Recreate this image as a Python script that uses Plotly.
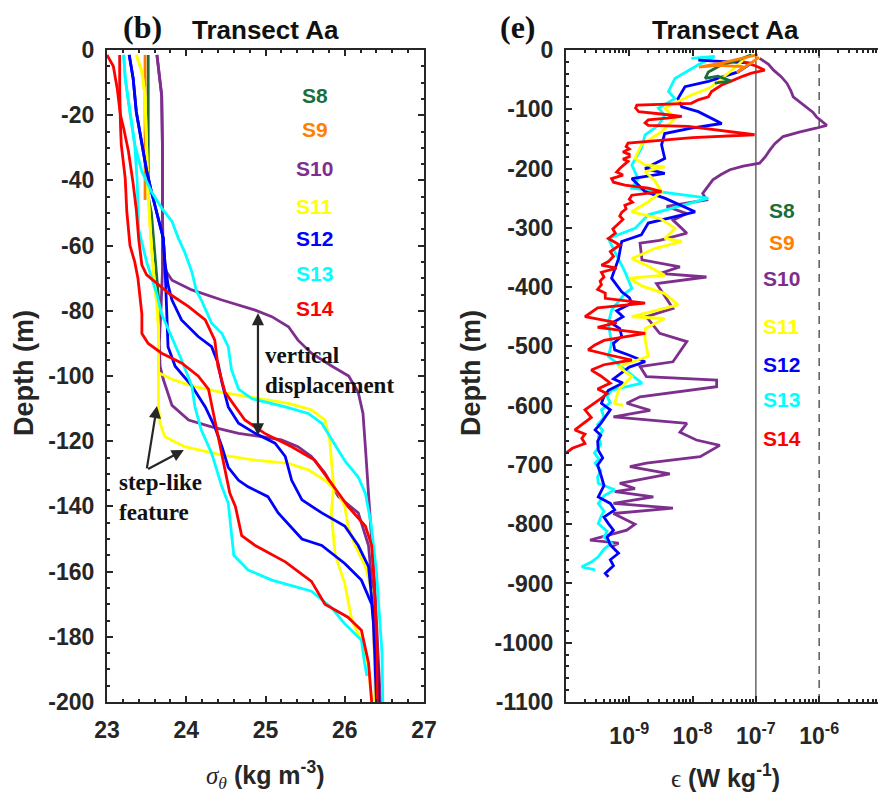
import plotly.graph_objects as go

# ---------------- Left panel: sigma_theta profiles (kg m^-3) vs depth (m) ----------------
stations = ["S8", "S9", "S10", "S11", "S12", "S13", "S14"]
colors = ["#1a6e3a", "#ff8000", "#7e2f8e", "#ffff00", "#0000ff", "#00ffff", "#ff0000"]

S8_sig = [23.52, 23.52, 23.52, 23.52, 23.52, 23.56, 23.60, 23.65, 23.66]
S8_dep = [-1.5, -10, -20, -30, -45, -50, -62, -75, -79]

S9_sig = [23.48, 23.48, 23.48, 23.48]
S9_dep = [-1.5, -15, -30, -46]

S10a_sig = [23.63, 23.67, 23.69, 23.70, 23.70, 23.71, 23.75, 23.82, 24.07, 24.45, 24.87, 25.08, 25.29,
            25.41, 25.58, 25.84, 26.05, 26.17, 26.23, 26.26, 26.30, 26.34, 26.38, 26.42, 26.45]
S10a_dep = [-1.5, -8.7, -14, -30, -50, -65, -68, -70.6, -73.6, -76.7, -79.8, -81.8, -84.9,
            -89, -93, -97, -100, -105, -111.5, -121.7, -136, -150, -165, -185, -200]
S10b_sig = [23.63, 23.67, 23.69, 23.70, 23.70, 23.70, 23.68, 23.66, 23.67, 23.71, 23.82, 24.03, 24.32,
            24.66, 24.95, 25.20, 25.41, 25.58, 25.75, 25.92, 26.17, 26.30, 26.34, 26.37, 26.40]
S10b_dep = [-1.5, -8.7, -14, -30, -50, -68, -80, -90, -97, -101, -109, -113.5, -115.6,
            -117.6, -118.6, -119.6, -121.7, -124.7, -129.8, -137, -142, -152, -163, -180, -200]

S11a_sig = [23.37, 23.44, 23.48, 23.50, 23.52, 23.56, 23.60, 23.63, 23.65, 23.65, 23.65, 23.82, 24.07,
            24.45, 24.87, 25.29, 25.58, 25.75, 25.81, 25.84, 25.86, 25.83, 25.88, 26.00, 26.09, 26.21,
            26.30, 26.34]
S11a_dep = [-1.5, -6.6, -14, -29, -44.5, -60, -72, -78, -85, -96, -99, -101, -103,
            -105, -106.8, -108.4, -110.4, -113.5, -119.6, -128, -134, -142, -155, -163.6, -175, -181,
            -189, -200]
S11b_sig = [23.37, 23.44, 23.48, 23.50, 23.52, 23.56, 23.60, 23.63, 23.65, 23.65, 23.65, 23.67, 23.73,
            23.98, 24.45, 24.87, 25.29, 25.54, 25.75, 25.92, 26.00, 26.04, 26.13, 26.26, 26.34, 26.37, 26.38]
S11b_dep = [-1.5, -6.6, -14, -29, -44.5, -60, -72, -78, -85, -100, -109.5, -114.5, -118.6,
            -121.7, -124.3, -125.8, -126.8, -128.8, -132, -136, -140, -146, -152, -158.5, -166, -178, -200]

S12a_sig = [23.28, 23.33, 23.37, 23.44, 23.50, 23.56, 23.65, 23.71, 23.73, 23.77, 23.82, 23.94, 24.15,
            24.32, 24.40, 24.45, 24.53, 24.66, 24.87, 25.12, 25.25, 25.33, 25.46, 25.71, 26.00, 26.17,
            26.30, 26.36, 26.40]
S12a_dep = [-1.5, -8.7, -19, -29, -37, -43.4, -51.6, -57.7, -65, -72, -76.7, -82.8, -87.9,
            -91, -96, -102, -109.5, -114.5, -117.6, -120.6, -124.7, -132, -138, -142, -146, -152,
            -158.5, -173, -200]
S12b_sig = [23.28, 23.33, 23.37, 23.44, 23.50, 23.56, 23.65, 23.71, 23.73, 23.75, 23.77, 23.86, 24.07,
            24.24, 24.36, 24.45, 24.53, 24.66, 24.78, 25.03, 25.16, 25.46, 25.71, 26.00, 26.21, 26.34,
            26.42, 26.43]
S12b_dep = [-1.5, -8.7, -19, -29, -37, -43.4, -51.6, -57.7, -65, -81, -91, -97, -103,
            -109.5, -115.6, -121.7, -128, -132, -134, -137, -142, -150, -152, -157.5, -162.6, -170,
            -190, -200]

S13a_sig = [23.21, 23.23, 23.29, 23.35, 23.44, 23.56, 23.69, 23.82, 23.90, 23.98, 24.07, 24.13, 24.19,
            24.32, 24.45, 24.53, 24.57, 24.66, 24.83, 25.25, 25.54, 25.71, 25.84, 26.00, 26.17, 26.26,
            26.33, 26.40, 26.47, 26.48]
S13a_dep = [-1.5, -8.7, -19, -29, -37.3, -43.4, -48.5, -52.6, -57.7, -62, -68, -74, -76.7,
            -83.8, -87, -91, -98, -104, -107, -109.5, -111.5, -114.5, -119.6, -126, -131, -136,
            -145, -160, -185, -200]
S13b_sig = [23.21, 23.23, 23.29, 23.35, 23.38, 23.40, 23.50, 23.63, 23.69, 23.82, 23.94, 24.07, 24.11,
            24.19, 24.32, 24.40, 24.45, 24.53, 24.57, 24.60, 24.78, 25.08, 25.58, 25.83, 26.00, 26.21,
            26.25, 26.28]
S13b_dep = [-1.5, -8.7, -19, -29, -40, -55, -65, -75, -81, -88, -95, -103, -109.5,
            -116.6, -123.7, -130, -134, -139, -149, -155, -159.5, -162.6, -166, -171, -176, -181,
            -188, -192]

S14a_sig = [23.00, 23.08, 23.13, 23.17, 23.21, 23.27, 23.33, 23.37, 23.40, 23.44, 23.50, 23.63, 23.80,
            24.03, 24.24, 24.36, 24.40, 24.49, 24.74, 24.99, 25.33, 25.62, 25.80, 26.04, 26.26, 26.34,
            26.37, 26.41, 26.41]
S14a_dep = [-1.5, -5, -12, -20, -24, -31, -41, -49, -58, -66, -69, -71.6, -75,
            -78.7, -82.8, -89, -97, -105, -113.5, -117.6, -121.7, -125.8, -132, -140, -146, -152,
            -163, -185, -200]
S14b_sig = [23.16, 23.16, 23.17, 23.18, 23.23, 23.25, 23.29, 23.35, 23.39, 23.42, 23.44, 23.44, 23.52,
            23.69, 23.94, 24.15, 24.28, 24.36, 24.43, 24.49, 24.55, 24.62, 24.70, 24.87, 25.25, 25.58,
            25.75, 26.04, 26.21, 26.30, 26.34]
S14b_dep = [-1.5, -12, -23, -29, -39.4, -49.6, -60, -65, -70, -76.7, -81, -87, -90,
            -93, -96, -100, -104, -113.5, -121.7, -128, -136, -140, -149, -152, -157, -163,
            -170, -174, -178, -188, -200]

# ---------------- Right panel: log10(epsilon [W kg^-1]) vs depth (m) ----------------
E_S8_log = [-7.07, -7.30, -7.54, -7.75, -7.80, -7.60, -7.40, -7.65]
E_S8_dep = [-8, -18, -25, -37, -48, -44, -52, -56]

E_S9_log = [-6.97, -7.20, -7.55, -7.90, -7.60, -7.20, -7.30, -7.05, -6.95]
E_S9_dep = [-8, -14, -22, -29, -26, -28, -38, -20, -12]

E_S10_log = [-6.94, -6.80, -6.72, -6.60, -6.51, -6.45, -6.41, -6.30, -6.20, -6.10, -6.04, -5.95, -5.88,
             -6.05, -6.30, -6.57, -6.70, -6.78, -6.85, -6.94, -7.20, -7.41, -7.55, -7.68, -7.84,
             -7.78, -8.09, -8.41, -8.09, -8.31, -8.20, -8.09, -8.52, -8.83, -8.80, -8.20, -8.52,
             -7.78, -8.57, -8.31, -8.73, -8.52, -8.09, -8.31, -8.83, -8.73, -7.62, -7.62, -8.83,
             -9.04, -8.67, -9.25, -8.09, -8.20, -7.94, -7.57, -7.88, -8.73, -8.99, -8.36, -9.15,
             -8.91, -9.23, -8.62, -9.25, -8.31, -9.25, -8.91, -9.04, -9.62, -9.17, -9.26]
E_S10_dep = [-14, -24, -34, -45, -56, -68, -79, -88, -96, -105, -113, -120, -127,
             -132, -138, -146, -158, -169, -180, -191, -196, -202, -210, -219, -242,
             -253, -259, -264, -276, -287, -298, -309, -321, -326, -354, -366, -377,
             -383, -394, -436, -450, -478, -492, -526, -534, -551, -557, -568, -585,
             -596, -608, -619, -630, -645, -658, -667, -686, -697, -703, -715, -731,
             -740, -745, -754, -765, -773, -782, -800, -810, -827, -832, -837]

E_S11_log = [-7.17, -7.28, -7.59, -7.75, -8.02, -8.44, -8.28, -8.49, -8.81, -8.91, -8.75, -8.44, -8.75,
             -8.60, -8.49, -8.70, -8.96, -8.50, -8.28, -8.44, -8.17, -8.60, -8.96, -8.70, -8.44,
             -9.00, -8.80, -8.44, -8.23, -8.96, -8.44, -8.75, -8.75, -8.70, -9.17, -8.96, -9.17,
             -9.23, -9.10]
E_S11_dep = [-14, -25, -53, -65, -76, -98, -115, -138, -160, -183, -194, -197, -205,
             -220, -239, -256, -273, -285, -301, -318, -323, -335, -352, -365, -380,
             -385, -398, -411, -430, -450, -453, -470, -489, -517, -534, -551, -574,
             -596, -600]

E_S12_log = [-7.91, -7.07, -7.28, -7.75, -8.12, -8.23, -8.17, -7.91, -7.54, -8.02, -8.44, -8.49, -8.44,
             -8.75, -8.44, -8.96, -8.75, -8.44, -7.96, -8.70, -8.81, -9.12, -9.17, -9.28, -9.12,
             -9.00, -8.96, -9.20, -9.10, -9.28, -9.15, -9.12, -9.25, -9.23, -9.00, -8.75, -9.00,
             -9.12, -9.25, -9.10, -9.33, -9.40, -9.44, -9.30, -9.38, -9.45, -9.54, -9.45, -9.50,
             -9.49, -9.42, -9.50, -9.44, -9.40, -9.49, -9.30, -9.23, -9.40, -9.33, -9.25, -9.35,
             -9.30, -9.17, -9.30, -9.25, -9.38, -9.33]
E_S12_dep = [-17, -22, -37, -53, -62, -82, -96, -104, -124, -132, -141, -160, -183,
             -200, -208, -217, -239, -250, -273, -292, -312, -323, -352, -385, -408,
             -418, -427, -440, -450, -461, -470, -483, -495, -506, -515, -526, -535,
             -545, -555, -562, -574, -585, -596, -607, -619, -630, -641, -650, -660,
             -675, -688, -700, -720, -735, -754, -765, -776, -788, -799, -810, -822,
             -835, -849, -860, -870, -883, -889]

E_S13_log = [-8.02, -7.65, -7.91, -8.28, -8.38, -8.28, -8.54, -8.44, -8.54, -8.75, -8.81, -8.96, -8.86,
             -8.96, -7.75, -8.70, -8.91, -9.33, -9.23, -9.07, -8.96, -9.07, -9.28, -9.33, -9.28,
             -9.33, -8.80, -9.28, -9.35, -9.30, -9.44, -9.40, -9.50, -9.42, -9.49, -9.45, -9.55,
             -9.48, -9.54, -9.45, -9.50, -9.49, -9.23, -9.40, -9.49, -9.40, -9.45, -9.49, -9.35,
             -9.40, -9.28, -9.40, -9.49, -9.60, -9.75, -9.54]
E_S13_dep = [-14, -11, -25, -48, -70, -82, -98, -110, -127, -143, -166, -194, -217,
             -233, -250, -278, -301, -318, -340, -374, -402, -411, -439, -461, -495,
             -517, -562, -574, -585, -595, -607, -620, -632, -642, -652, -665, -680,
             -690, -697, -710, -720, -731, -742, -752, -765, -778, -788, -799, -812,
             -822, -832, -842, -855, -864, -872, -877]

E_S14_log = [-7.20, -7.00, -6.86, -7.07, -7.20, -7.28, -7.40, -7.54, -7.62, -7.70, -7.75, -7.91, -8.02,
             -8.88, -8.90, -8.85, -8.50, -8.17, -8.40, -8.70, -8.75, -8.70, -8.07, -7.50, -7.02,
             -8.00, -8.49, -9.02, -9.05, -9.00, -9.10, -9.00, -9.00, -9.10, -9.02, -9.08, -9.15,
             -9.20, -9.10, -9.28, -9.25, -9.07, -8.70, -8.49, -8.96, -9.00, -8.95, -9.07, -9.05,
             -9.12, -9.15, -9.10, -9.20, -9.26, -9.22, -9.33, -9.15, -9.30, -9.25, -9.33, -9.44,
             -9.20, -9.44, -9.40, -9.46, -9.44, -9.50, -9.38, -9.38, -8.75, -9.50, -9.70, -9.20,
             -9.50, -8.75, -9.40, -9.55, -9.65, -9.30, -8.96, -9.40, -9.60, -9.45, -9.30, -9.50,
             -9.35, -9.49, -9.60, -9.70, -9.60, -9.72, -9.86, -9.70, -9.75, -9.70, -9.90, -10.0]
E_S14_dep = [-20, -27, -34, -39, -44, -48, -53, -59, -64, -70, -79, -84, -90,
             -93, -98, -104, -108, -112, -115, -118, -123, -127, -129, -136, -143,
             -148, -152, -157, -163, -167, -172, -176, -180, -184, -188, -193, -200,
             -206, -211, -217, -223, -228, -233, -239, -245, -252, -257, -262, -268,
             -274, -280, -286, -295, -302, -309, -318, -329, -340, -348, -357, -363,
             -368, -375, -383, -390, -396, -404, -410, -419, -427, -435, -450, -460,
             -468, -478, -490, -498, -506, -515, -523, -531, -540, -550, -562, -572,
             -580, -591, -600, -607, -620, -630, -641, -648, -655, -664, -672, -680]

# ---------------- axis tick labels ----------------
sig_ticks = [23, 24, 25, 26, 27]
dep_ticks_left = [0, -20, -40, -60, -80, -100, -120, -140, -160, -180, -200]
dep_ticks_right = [0, -100, -200, -300, -400, -500, -600, -700, -800, -900, -1000, -1100]
eps_ticks = [1e-9, 1e-8, 1e-7, 1e-6]
eps_ticktext = ["10<sup>-9</sup>", "10<sup>-8</sup>", "10<sup>-7</sup>", "10<sup>-6</sup>"]

# ---------------- figure ----------------
W, H = 878, 796
PT, PB = 50, 702  # plot area top / bottom pixel
AX = "#262626"
SANS = "Liberation Sans, Arial, sans-serif"
SERIF = "Liberation Serif, Times New Roman, serif"


def px(x):
    return x / W


def py(y):
    return (PB - y) / (PB - PT)


fig = go.Figure()

left_profiles = [
    (S8_sig, S8_dep, 0), (S9_sig, S9_dep, 1),
    (S10a_sig, S10a_dep, 2), (S10b_sig, S10b_dep, 2),
    (S11a_sig, S11a_dep, 3), (S11b_sig, S11b_dep, 3),
    (S12a_sig, S12a_dep, 4), (S12b_sig, S12b_dep, 4),
    (S13a_sig, S13a_dep, 5), (S13b_sig, S13b_dep, 5),
    (S14a_sig, S14a_dep, 6), (S14b_sig, S14b_dep, 6),
]
for s, d, ci in left_profiles:
    fig.add_trace(go.Scatter(x=s, y=d, mode="lines", line=dict(color=colors[ci], width=2.8),
                             xaxis="x", yaxis="y", showlegend=False, hoverinfo="skip"))

# reference lines in right panel
fig.add_trace(go.Scatter(x=[1e-7, 1e-7], y=[-1100, 0], mode="lines",
                         line=dict(color="#707070", width=1.6), xaxis="x2", yaxis="y2",
                         showlegend=False, hoverinfo="skip"))
fig.add_trace(go.Scatter(x=[1e-6, 1e-6], y=[-1100, 0], mode="lines",
                         line=dict(color="#404040", width=1.3, dash="8px,6px"), xaxis="x2", yaxis="y2",
                         showlegend=False, hoverinfo="skip"))

right_profiles = [
    (E_S10_log, E_S10_dep, 2), (E_S13_log, E_S13_dep, 5), (E_S12_log, E_S12_dep, 4),
    (E_S11_log, E_S11_dep, 3), (E_S14_log, E_S14_dep, 6), (E_S8_log, E_S8_dep, 0),
    (E_S9_log, E_S9_dep, 1),
]
for lg, d, ci in right_profiles:
    fig.add_trace(go.Scatter(x=[10 ** v for v in lg], y=d, mode="lines",
                             line=dict(color=colors[ci], width=2.8),
                             xaxis="x2", yaxis="y2", showlegend=False, hoverinfo="skip"))

axis_common = dict(showline=True, linecolor=AX, linewidth=2.2, ticks="inside", ticklen=6,
                   tickwidth=1.8, tickcolor=AX, showgrid=False, zeroline=False, automargin=False,
                   tickfont=dict(family=SANS, size=23, color=AX, weight="bold"))

fig.update_layout(
    width=W, height=H, margin=dict(l=0, r=0, t=PT, b=H - PB),
    paper_bgcolor="white", plot_bgcolor="white",
    xaxis=dict(domain=[px(107), px(424)], range=[23, 27], tickvals=sig_ticks,
               ticktext=[str(v) for v in sig_ticks], mirror="ticks", ticklabelstandoff=6,
               minor=dict(ticks="inside", dtick=0.2, ticklen=3, tickwidth=1.5, tickcolor=AX),
               anchor="y", **axis_common),
    yaxis=dict(domain=[0, 1], range=[-200, 0], tickvals=dep_ticks_left,
               ticktext=[str(v) for v in dep_ticks_left], mirror="ticks", ticklabelstandoff=6,
               minor=dict(ticks="inside", dtick=5, ticklen=3, tickwidth=1.5, tickcolor=AX),
               anchor="x", **axis_common),
    xaxis2=dict(domain=[px(566), 1.0], type="log", range=[-10, -5.07], tickvals=eps_ticks,
                ticktext=eps_ticktext, mirror="ticks", ticklabelstandoff=12,
                minor=dict(ticks="inside", tickmode="array",
                           tickvals=[k * 10.0 ** e for e in range(-10, -5) for k in range(2, 10)],
                           ticklen=3, tickwidth=1.5, tickcolor=AX),
                anchor="y2", **axis_common),
    yaxis2=dict(domain=[0, 1], range=[-1100, 0], tickvals=dep_ticks_right,
                ticktext=[str(v) for v in dep_ticks_right], mirror=False, ticklabelstandoff=6,
                minor=dict(ticks="inside", dtick=20, ticklen=3, tickwidth=1.5, tickcolor=AX),
                anchor="x2", **axis_common),
)

ann = []
# station labels
left_lab_dep = [-14.1, -24.5, -36.2, -47.9, -57.7, -68.7, -79.4]
right_lab_dep = [-270, -324.6, -385, -467, -531, -589, -655]
for i, st in enumerate(stations):
    ann.append(dict(x=25.62, y=left_lab_dep[i], xref="x", yref="y", text=st, showarrow=False,
                    xanchor="center", yanchor="middle",
                    font=dict(family=SANS, size=21, color=colors[i], weight="bold")))
    ann.append(dict(x=-6.59, y=right_lab_dep[i], xref="x2", yref="y2", text=st, showarrow=False,
                    xanchor="center", yanchor="middle",
                    font=dict(family=SANS, size=21, color=colors[i], weight="bold")))


def pann(x, y, text, font, **kw):
    d = dict(x=px(x), y=py(y), xref="paper", yref="paper", text=text, showarrow=False,
             xanchor="center", yanchor="middle", font=font)
    d.update(kw)
    return d


ann += [
    pann(142, 27, "(b)", dict(family=SERIF, size=32, color="#111", weight="bold")),
    pann(265, 30, "Transect Aa", dict(family=SANS, size=26, color="#111", weight="bold")),
    pann(518, 27, "(e)", dict(family=SERIF, size=32, color="#111", weight="bold")),
    pann(725, 30, "Transect Aa", dict(family=SANS, size=26, color="#111", weight="bold")),
    pann(24, 373, "Depth (m)", dict(family=SANS, size=27, color=AX, weight="bold"), textangle=-90),
    pann(471, 373, "Depth (m)", dict(family=SANS, size=27, color=AX, weight="bold"), textangle=-90),
    pann(265, 775,
         "<span style='font-family:Liberation Serif;font-style:italic;font-weight:normal'>σ<sub>θ</sub></span> (kg m<sup>-3</sup>)",
         dict(family=SANS, size=25, color=AX, weight="bold")),
    pann(725, 776,
         "<span style='font-family:Liberation Serif;font-weight:normal'>ϵ</span> (W kg<sup>-1</sup>)",
         dict(family=SANS, size=25, color=AX, weight="bold")),
]
# in-plot annotations
ann += [
    dict(x=24.97, y=-98.3, xref="x", yref="y", text="vertical<br>displacement", showarrow=False,
         xanchor="left", yanchor="middle", align="left",
         font=dict(family=SERIF, size=23, color="#111", weight="bold")),
    dict(x=23.12, y=-137.3, xref="x", yref="y", text="step-like<br>feature", showarrow=False,
         xanchor="left", yanchor="middle", align="left",
         font=dict(family=SERIF, size=23, color="#111", weight="bold")),
    dict(x=24.905, y=-80.7, ax=24.905, ay=-118.7, xref="x", yref="y", axref="x", ayref="y",
         text="", showarrow=True, arrowhead=2, startarrowhead=2, arrowside="end+start",
         arrowsize=1.1, startarrowsize=1.1, arrowwidth=2.2, arrowcolor="#262626"),
    dict(x=23.63, y=-109.2, ax=23.50, ay=-128.8, xref="x", yref="y", axref="x", ayref="y",
         text="", showarrow=True, arrowhead=2, arrowsize=1.1, arrowwidth=2.2, arrowcolor="#262626"),
    dict(x=23.97, y=-122.7, ax=23.50, ay=-128.8, xref="x", yref="y", axref="x", ayref="y",
         text="", showarrow=True, arrowhead=2, arrowsize=1.1, arrowwidth=2.2, arrowcolor="#262626"),
]
fig.update_layout(annotations=ann)

fig.write_html("out.html")
